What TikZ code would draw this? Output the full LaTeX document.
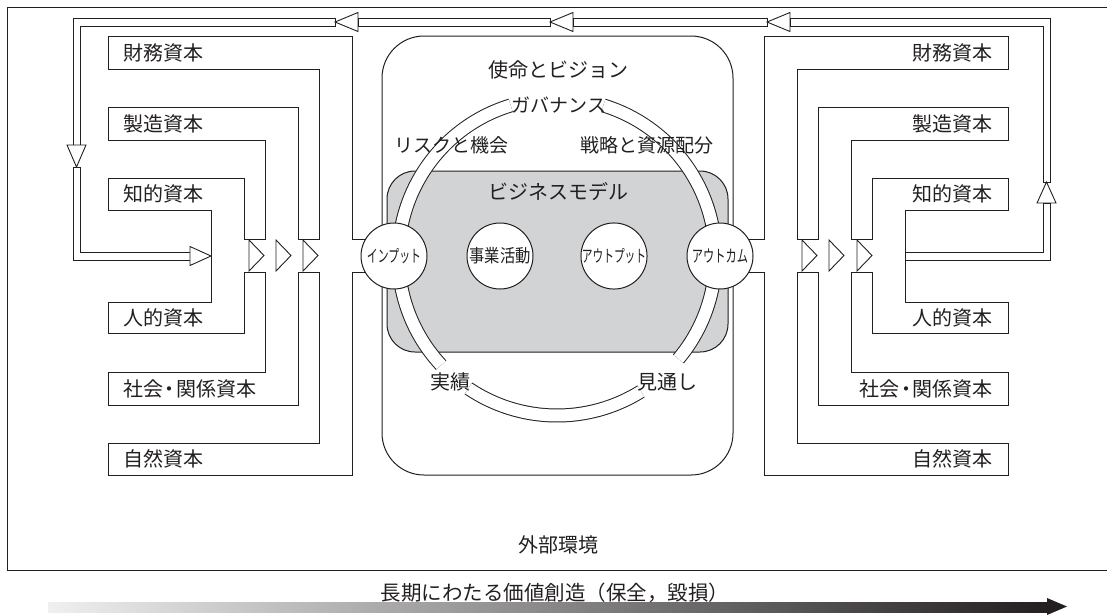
\documentclass[tikz,border=0pt]{standalone}
\usepackage{fontspec}
\setmainfont{Noto Sans CJK JP}
\usepackage{graphicx}
\definecolor{ln}{RGB}{35,31,32}
\definecolor{bmgray}{RGB}{209,211,212}
\tikzset{
  base/.style={line width=1pt, draw=ln, line join=miter},
  pipe/.style={line width=0.9pt, draw=ln, fill=white, line join=miter},
  lbl/.style={font=\fontsize{20}{24}\selectfont, inner sep=0pt, text=ln},
  lblsm/.style={font=\fontsize{19}{22}\selectfont, inner sep=0pt, text=ln},
  circ/.style={circle, draw=ln, line width=1pt, fill=white, minimum size=66pt, inner sep=0pt, text=ln, font=\fontsize{17}{20}\selectfont},
  ring/.style={draw=ln, line width=1pt, double=white, double distance=12pt},
  tri/.style={draw=ln, line width=0.9pt, fill=white, line join=miter},
}
\begin{document}
\begin{tikzpicture}[x=1pt,y=-1pt]
\useasboundingbox (0,0) rectangle (1107,614);
% outer frame (external environment)
\draw[base] (1107,7) -- (7,7) -- (7,570) -- (1107,570);
% mission & vision box
\draw[base, rounded corners=42pt] (382,36) rectangle (733,475);
% business model
\draw[base, fill=bmgray, rounded corners=28pt] (387,171) rectangle (728,352);
% ring
\coordinate (rc) at (557,257);
\draw[ring] (rc) ++(-107:158.5) arc[start angle=-107, end angle=-223, radius=158.5];
\draw[ring] (rc) ++(-236:158.5) arc[start angle=-236, end angle=-302, radius=158.5];
\draw[ring] (rc) ++(-320:158.5) arc[start angle=-320, end angle=-433, radius=158.5];
% left capital bands
\draw[base] (370,239) -- (352,239) -- (352,36) -- (108,36) -- (108,69) -- (319,69) -- (319,239) -- (298,239) -- (298,107) -- (108,107) -- (108,140) -- (265,140) -- (265,239) -- (244,239) -- (244,178) -- (108,178) -- (108,210) -- (211,210) -- (211,302) -- (108,302) -- (108,333) -- (244,333) -- (244,272) -- (265,272) -- (265,372) -- (108,372) -- (108,405) -- (298,405) -- (298,272) -- (319,272) -- (319,443) -- (108,443) -- (108,475) -- (352,475) -- (352,272) -- (370,272);
% right capital bands
\draw[base] (746,239) -- (764,239) -- (764,36) -- (1008,36) -- (1008,69) -- (797,69) -- (797,239) -- (818,239) -- (818,107) -- (1008,107) -- (1008,140) -- (851,140) -- (851,239) -- (872,239) -- (872,178) -- (1008,178) -- (1008,210) -- (905,210) -- (905,302) -- (1008,302) -- (1008,333) -- (872,333) -- (872,272) -- (851,272) -- (851,372) -- (1008,372) -- (1008,405) -- (818,405) -- (818,272) -- (797,272) -- (797,443) -- (1008,443) -- (1008,475) -- (764,475) -- (764,272) -- (746,272);
% flow triangles
\draw[tri] (249,240) -- (264,255.5) -- (249,271) -- cycle;
\draw[tri] (276,240) -- (291,255.5) -- (276,271) -- cycle;
\draw[tri] (303,240) -- (318,255.5) -- (303,271) -- cycle;
\draw[tri] (802,240) -- (817,255.5) -- (802,271) -- cycle;
\draw[tri] (829,240) -- (844,255.5) -- (829,271) -- cycle;
\draw[tri] (857,240) -- (872,255.5) -- (857,271) -- cycle;
% circles
\node[circ] (inp) at (394,256) {\scalebox{0.64}[1]{インプット}};
\node[circ] (act) at (500,256) {\fontsize{18}{20}\selectfont\scalebox{0.85}[1]{事業活動}};
\node[circ] (outp) at (614,256) {\scalebox{0.63}[1]{アウトプット}};
\node[circ] (outc) at (720,256) {\scalebox{0.66}[1]{アウトカム}};
% central labels
\node[lbl] (mv) at (558,70) {使命とビジョン};
\node[lblsm] (gov) at (559,105) {ガバナンス};
\node[lblsm] (risk) at (451,145) {リスクと機会};
\node[lblsm] (strat) at (647,145) {戦略と資源配分};
\node[lbl] (bm) at (558,192) {ビジネスモデル};
\node[lbl] (perf) at (450,382) {実績};
\node[lbl] (outl) at (667,382) {見通し};
\node[lbl] (ext) at (558,545) {外部環境};
% capital labels left
\node[lbl, anchor=west] (lfin) at (123,52.5) {財務資本};
\node[lbl, anchor=west] (lman) at (123,123.5) {製造資本};
\node[lbl, anchor=west] (lint) at (123,194) {知的資本};
\node[lbl, anchor=west] (lhum) at (123,317.5) {人的資本};
\node[lbl, anchor=west] (lsoc) at (123,388.5) {社会\kern-3.5pt・\kern-3.5pt関係資本};
\node[lbl, anchor=west] (lnat) at (123,459) {自然資本};
% capital labels right
\node[lbl, anchor=east] (rfin) at (993,52.5) {財務資本};
\node[lbl, anchor=east] (rman) at (993,123.5) {製造資本};
\node[lbl, anchor=east] (rint) at (993,194) {知的資本};
\node[lbl, anchor=east] (rhum) at (993,317.5) {人的資本};
\node[lbl, anchor=east] (rsoc) at (993,388.5) {社会\kern-3.5pt・\kern-3.5pt関係資本};
\node[lbl, anchor=east] (rnat) at (993,459) {自然資本};
% feedback pipe
\draw[pipe] (335,18) -- (73,18) -- (73,145) -- (80,145) -- (80,26) -- (335,26) -- cycle;
\draw[tri] (67,145) -- (86,145) -- (76.5,167) -- cycle;
\draw[pipe] (80,167) -- (73,167) -- (73,260) -- (190,260) -- (190,252) -- (80,252) -- cycle;
\draw[tri] (190,246.5) -- (211,256) -- (190,265.5) -- cycle;
\draw[tri] (335,22) -- (358,12.5) -- (358,31.5) -- cycle;
\draw[pipe] (358,18) rectangle (550,26);
\draw[tri] (550,22) -- (573,12.5) -- (573,31.5) -- cycle;
\draw[pipe] (573,18) rectangle (767,26);
\draw[tri] (767,22) -- (790,12.5) -- (790,31.5) -- cycle;
\draw[pipe] (790,18) -- (1050,18) -- (1050,182) -- (1043,182) -- (1043,26) -- (790,26) -- cycle;
\draw[tri] (1046.5,182) -- (1056,203) -- (1037,203) -- cycle;
\draw[pipe] (905,252) -- (1043,252) -- (1043,203) -- (1050,203) -- (1050,260) -- (905,260) -- cycle;
% long-term value creation
\node[lbl, font=\fontsize{20.5}{24}\selectfont] (vc) at (555,593) {長期にわたる価値創造（保全，毀損）};
\shade[left color=black!6, right color=ln] (48,602) rectangle (1047,612);
\fill[ln] (1047,598) -- (1067,606.5) -- (1047,615) -- cycle;
\end{tikzpicture}
\end{document}
